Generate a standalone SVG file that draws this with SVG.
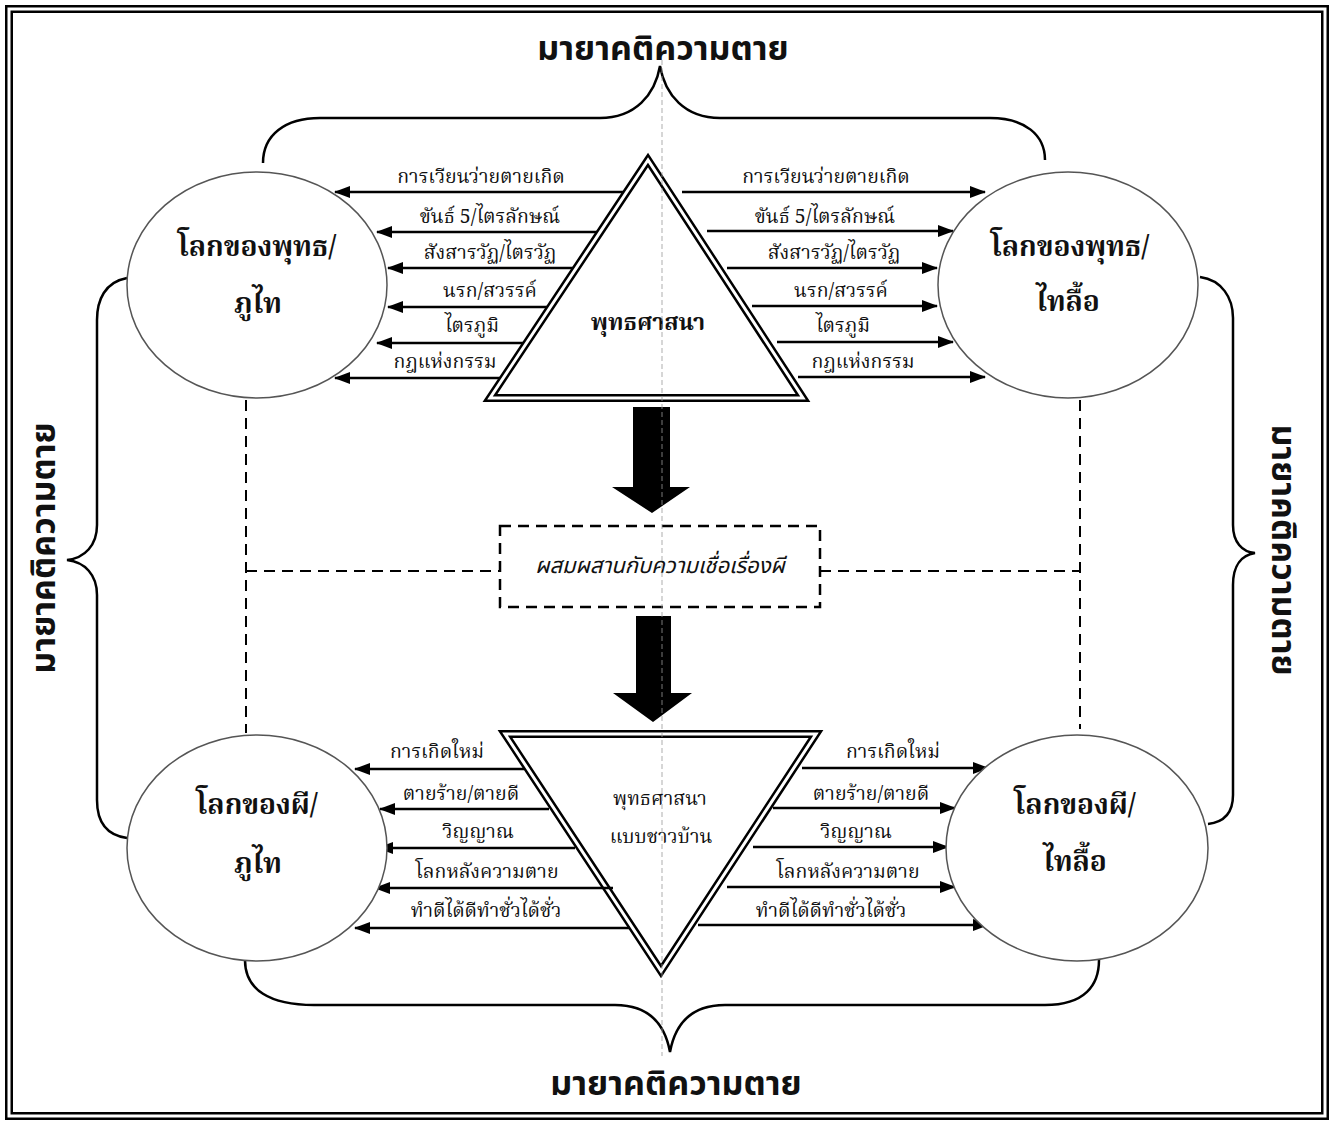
<svg xmlns="http://www.w3.org/2000/svg" width="1334" height="1123" viewBox="0 0 1334 1123">
<style>
text{font-family:"Noto Serif Thai","Noto Sans Thai","Noto Sans","DejaVu Sans",sans-serif;fill:#111}
.lbl{font-size:19.5px;text-anchor:middle}
.node{font-size:28px;font-weight:bold;text-anchor:middle}
.title{font-size:34px;font-weight:bold;text-anchor:middle;font-family:"Noto Sans Thai","Noto Sans",sans-serif}
.circ{fill:#fff;stroke:#555;stroke-width:1.5}
.ar{stroke:#000;stroke-width:2.5;fill:none;marker-end:url(#ah)}
.dash{stroke:#000;stroke-width:2;fill:none;stroke-dasharray:11 7}
.brace{stroke:#000;stroke-width:2.5;fill:none}
.dbl1{fill:none;stroke:#000;stroke-width:8;stroke-linejoin:miter;stroke-miterlimit:10}
.dbl2{fill:none;stroke:#fff;stroke-width:3;stroke-linejoin:miter;stroke-miterlimit:10}
</style>
<defs>
<marker id="ah" markerWidth="16" markerHeight="12" refX="15" refY="6" orient="auto" markerUnits="userSpaceOnUse">
<path d="M0,0 L16,6 L0,12 z" fill="#000"/>
</marker>
</defs>
<rect width="1334" height="1123" fill="#fff"/>
<g id="border">
<rect x="9" y="9" width="1316" height="1107" class="dbl1"/>
<rect x="9" y="9" width="1316" height="1107" class="dbl2"/>
</g>

<g id="connectors">
<path class="brace" d="M263,163 C263,135 285,118 320,118 L600,118 C635,118 655,95 660,66 C665,95 685,118 720,118 L990,118 C1025,118 1045,135 1045,160"/>
<path class="brace" d="M245,960 C245,990 270,1005 314,1005 L615,1005 C650,1005 665,1025 670,1052 C675,1025 690,1005 725,1005 L1045,1005 C1085,1005 1099,985 1099,960"/>
<path class="brace" d="M127,278 C105,282 97,300 97,320 L97,525 C97,545 85,558 67,560 C85,562 97,575 97,595 L97,800 C97,820 105,835 127,838"/>
<path class="brace" d="M1200,277 C1222,280 1233,298 1233,318 L1233,525 C1233,542 1242,552 1255,553 C1242,555 1233,565 1233,585 L1233,795 C1233,812 1225,822 1208,824"/>
<line class="dash" x1="246" y1="400" x2="246" y2="733"/>
<line class="dash" x1="1080" y1="400" x2="1080" y2="729"/>
<line class="dash" x1="246" y1="571" x2="500" y2="571"/>
<line class="dash" x1="820" y1="571" x2="1080" y2="571"/>
<path d="M633,407 L670,407 L670,487 L690,487 L652,513 L612,487 L633,487 z" fill="#000"/>
<path d="M636,616 L671,616 L671,693 L692,693 L653,722 L613,693 L636,693 z" fill="#000"/>
<line class="ar" x1="624" y1="192" x2="335" y2="192"/>
<line class="ar" x1="598" y1="232" x2="377" y2="232"/>
<line class="ar" x1="574" y1="268" x2="388" y2="268"/>
<line class="ar" x1="548" y1="307" x2="388" y2="307"/>
<line class="ar" x1="526" y1="343" x2="377" y2="343"/>
<line class="ar" x1="502" y1="378" x2="335" y2="378"/>
<line class="ar" x1="682" y1="192" x2="985" y2="192"/>
<line class="ar" x1="707" y1="231" x2="953" y2="231"/>
<line class="ar" x1="727" y1="268" x2="937" y2="268"/>
<line class="ar" x1="752" y1="306" x2="937" y2="306"/>
<line class="ar" x1="777" y1="342" x2="953" y2="342"/>
<line class="ar" x1="798" y1="377" x2="985" y2="377"/>
</g>

<g id="tri-top">
<polygon points="648,160 490,398 803,398" fill="#fff" class="dbl1"/>
<polygon points="648,160 490,398 803,398" class="dbl2"/>
<text x="648" y="330" style="font-size:23px;font-weight:bold;text-anchor:middle">พุทธศาสนา</text>
</g>

<g id="tri-bottom">
<polygon points="505,734 816,734 661,971" fill="#fff" class="dbl1"/>
<polygon points="505,734 816,734 661,971" class="dbl2"/>
<text x="660" y="805" style="font-size:19.5px;text-anchor:middle">พุทธศาสนา</text>
<text x="661" y="843" style="font-size:19.5px;text-anchor:middle">แบบชาวบ้าน</text>
</g>

<g id="connectors-bottom">
<line class="ar" x1="524" y1="769" x2="355" y2="769"/>
<line class="ar" x1="549" y1="809" x2="380" y2="809"/>
<line class="ar" x1="575" y1="848" x2="378" y2="848"/>
<line class="ar" x1="613" y1="888" x2="375" y2="888"/>
<line class="ar" x1="630" y1="928" x2="355" y2="928"/>
<line class="ar" x1="802" y1="768" x2="988" y2="768"/>
<line class="ar" x1="773" y1="808" x2="955" y2="808"/>
<line class="ar" x1="753" y1="847" x2="948" y2="847"/>
<line class="ar" x1="727" y1="887" x2="955" y2="887"/>
<line class="ar" x1="698" y1="925" x2="988" y2="925"/>
</g>

<g id="arrow-labels">
<text class="lbl" x="481" y="183">การเวียนว่ายตายเกิด</text>
<text class="lbl" x="490" y="223">ขันธ์ 5/ไตรลักษณ์</text>
<text class="lbl" x="490" y="259">สังสารวัฏ/ไตรวัฏ</text>
<text class="lbl" x="490" y="297">นรก/สวรรค์</text>
<text class="lbl" x="472" y="332">ไตรภูมิ</text>
<text class="lbl" x="445" y="368">กฎแห่งกรรม</text>
<text class="lbl" x="826" y="183">การเวียนว่ายตายเกิด</text>
<text class="lbl" x="825" y="223">ขันธ์ 5/ไตรลักษณ์</text>
<text class="lbl" x="834" y="259">สังสารวัฏ/ไตรวัฏ</text>
<text class="lbl" x="841" y="297">นรก/สวรรค์</text>
<text class="lbl" x="843" y="332">ไตรภูมิ</text>
<text class="lbl" x="863" y="368">กฎแห่งกรรม</text>
<text class="lbl" x="437" y="758">การเกิดใหม่</text>
<text class="lbl" x="461" y="800">ตายร้าย/ตายดี</text>
<text class="lbl" x="478" y="838">วิญญาณ</text>
<text class="lbl" x="487" y="878">โลกหลังความตาย</text>
<text class="lbl" x="486" y="917">ทำดีได้ดีทำชั่วได้ชั่ว</text>
<text class="lbl" x="893" y="758">การเกิดใหม่</text>
<text class="lbl" x="871" y="800">ตายร้าย/ตายดี</text>
<text class="lbl" x="856" y="838">วิญญาณ</text>
<text class="lbl" x="848" y="878">โลกหลังความตาย</text>
<text class="lbl" x="831" y="917">ทำดีได้ดีทำชั่วได้ชั่ว</text>
</g>

<g id="mix-box">
<rect x="500" y="526" width="320" height="81" fill="#fff" class="dash" style="stroke-width:2.5"/>
<text x="660" y="573" style="font-size:22px;font-style:italic;text-anchor:middle;font-family:'Noto Sans Thai','Noto Sans',sans-serif">ผสมผสานกับความเชื่อเรื่องผี</text>
</g>

<g id="world-buddha-phuthai">
<ellipse cx="257" cy="285" rx="130" ry="113" class="circ"/>
<text class="node" x="257" y="256">โลกของพุทธ/</text>
<text class="node" x="258" y="313">ภูไท</text>
</g>
<g id="world-buddha-tailue">
<ellipse cx="1068" cy="285" rx="130" ry="113" class="circ"/>
<text class="node" x="1070" y="256">โลกของพุทธ/</text>
<text class="node" x="1068" y="311">ไทลื้อ</text>
</g>
<g id="world-ghost-phuthai">
<ellipse cx="257" cy="848" rx="130" ry="113" class="circ"/>
<text class="node" x="257" y="814">โลกของผี/</text>
<text class="node" x="258" y="873">ภูไท</text>
</g>
<g id="world-ghost-tailue">
<ellipse cx="1077" cy="848" rx="131" ry="113" class="circ"/>
<text class="node" x="1075" y="814">โลกของผี/</text>
<text class="node" x="1075" y="871">ไทลื้อ</text>
</g>

<g id="titles">
<text class="title" x="663" y="60">มายาคติความตาย</text>
<text class="title" x="676" y="1095">มายาคติความตาย</text>
<text class="title" transform="translate(55,548) rotate(-90)">มายาคติความตาย</text>
<text class="title" transform="translate(1272,550) rotate(90)">มายาคติความตาย</text>
</g>

<line x1="662" y1="60" x2="662" y2="1056" stroke="#999" stroke-width="1" stroke-dasharray="5 3" opacity="0.8"/>
</svg>
